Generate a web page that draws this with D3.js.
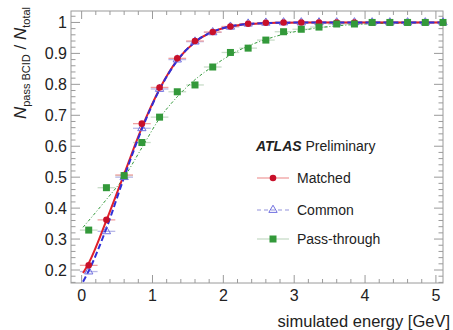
<!DOCTYPE html>
<html><head><meta charset="utf-8">
<script src="https://cdn.jsdelivr.net/npm/d3@7"></script>
<style>
body{margin:0;background:#fff}
text{font-family:"Liberation Sans",Arial,Helvetica,sans-serif;fill:#222}
</style>
</head><body>
<svg id="chart" width="453" height="330"></svg>
<script>
// ---- data ----
const energies = [0.1,0.35,0.6,0.85,1.1,1.35,1.6,1.85,2.1,2.35,2.6,2.85,3.1,3.35,3.6,3.85,4.1,4.35,4.6,4.85,5.1];
const matched = [0.215,0.362,0.507,0.673,0.790,0.884,0.940,0.969,0.987,0.996,0.999,1.0,1.0,1.0,1.0,1.0,1.0,1.0,1.0,1.0,1.0];
const common = [0.195,0.325,0.500,0.658,0.785,0.880,0.938,0.968,0.986,0.996,0.999,1.0,1.0,1.0,1.0,1.0,1.0,1.0,1.0,1.0,1.0];
const passThrough = [0.329,0.466,0.505,0.612,0.694,0.776,0.798,0.856,0.903,0.917,0.943,0.970,0.978,0.985,0.995,0.995,1.0,1.0,1.0,1.0,1.0];
const binHalfWidth = 0.125;

// fitted curves
const matchedFitX = [0.02,0.1,0.35,0.6,0.85,1.1,1.35,1.6,1.85,2.1,2.35,2.6,2.85,3.1,5.1];
const matchedFitY = [0.19,0.222,0.36,0.51,0.66,0.785,0.878,0.937,0.970,0.987,0.995,0.998,0.999,1.0,1.0];
const commonFitX = [0.02,0.1,0.35,0.6,0.85,1.1,1.35,1.6,1.85,2.1,2.35,2.6,2.85,3.1,5.1];
const commonFitY = [0.162,0.197,0.335,0.5,0.655,0.783,0.877,0.937,0.970,0.987,0.995,0.998,0.999,1.0,1.0];
const passFitX = [0.02,0.35,0.6,0.85,1.1,1.35,1.6,1.85,2.1,2.35,2.6,2.85,3.1,3.35,3.6,4.0,4.5,5.1];
const passFitY = [0.338,0.428,0.50,0.595,0.69,0.76,0.815,0.858,0.895,0.924,0.945,0.962,0.974,0.983,0.989,0.995,0.998,1.0];

const xTicks = [0,1,2,3,4,5];
const yTicks = [0.2,0.3,0.4,0.5,0.6,0.7,0.8,0.9,1.0];
const legendLabels = ["Matched","Common","Pass-through"];

// ---- layout ----
const svg = d3.select("#chart");
const L = 71, R = 443, T = 11, B = 283;
const x = d3.scaleLinear().domain([-0.15, 5.1]).range([L, R]);
const y = d3.scaleLinear().domain([0.158, 1.037]).range([B, T]);

const frameCol = "#9a9a9a";
const red = "#c8102a", redLine = "#e0202a", redErr = "#f0a0a0";
const blue = "#3030d8", blueErr = "#b8b8e8";
const green = "#33993a", greenErr = "#c8dcc8";

// frame
svg.append("rect").attr("x", L).attr("y", T).attr("width", R - L).attr("height", B - T)
  .attr("fill", "none").attr("stroke", frameCol).attr("stroke-width", 1);

// ticks
const xMinor = d3.range(0, 5.1 + 1e-9, 0.2).filter(v => Math.abs(v - Math.round(v)) > 1e-6);
const yMinor = d3.range(0.16, 1.037, 0.02).filter(v => Math.abs(v*10 - Math.round(v*10)) > 1e-6);
const tickG = svg.append("g").attr("stroke", frameCol).attr("stroke-width", 1);
xTicks.forEach(v => {
  tickG.append("line").attr("x1", x(v)).attr("x2", x(v)).attr("y1", B).attr("y2", B - 8);
  tickG.append("line").attr("x1", x(v)).attr("x2", x(v)).attr("y1", T).attr("y2", T + 8);
});
xMinor.forEach(v => {
  tickG.append("line").attr("x1", x(v)).attr("x2", x(v)).attr("y1", B).attr("y2", B - 4);
  tickG.append("line").attr("x1", x(v)).attr("x2", x(v)).attr("y1", T).attr("y2", T + 4);
});
yTicks.forEach(v => {
  tickG.append("line").attr("x1", L).attr("x2", L + 9).attr("y1", y(v)).attr("y2", y(v));
  tickG.append("line").attr("x1", R).attr("x2", R - 9).attr("y1", y(v)).attr("y2", y(v));
});
yMinor.forEach(v => {
  tickG.append("line").attr("x1", L).attr("x2", L + 4.5).attr("y1", y(v)).attr("y2", y(v));
  tickG.append("line").attr("x1", R).attr("x2", R - 4.5).attr("y1", y(v)).attr("y2", y(v));
});

// tick labels
svg.append("g").selectAll("text").data(xTicks).join("text")
  .attr("x", d => x(d)).attr("y", 301).attr("text-anchor", "middle")
  .attr("font-size", 16).text(d => d3.format("d")(d));
svg.append("g").selectAll("text").data(yTicks).join("text")
  .attr("x", 67).attr("y", d => y(d) + 6).attr("text-anchor", "end")
  .attr("font-size", 16).text(d => d === 1 ? "1" : d3.format(".1f")(d));

// axis titles
svg.append("text").attr("x", 450).attr("y", 327).attr("text-anchor", "end")
  .attr("font-size", 16.5).text("simulated energy [GeV]");
const yt = svg.append("text").attr("transform", "translate(26,63) rotate(-90)")
  .attr("text-anchor", "middle").attr("font-size", 17);
yt.append("tspan").attr("font-style", "italic").text("N");
yt.append("tspan").attr("font-size", 11).attr("dy", 4).text("pass BCID");
yt.append("tspan").attr("dy", -4).text(" / ");
yt.append("tspan").attr("font-style", "italic").text("N");
yt.append("tspan").attr("font-size", 11).attr("dy", 4).text("total");

// clip
svg.append("clipPath").attr("id", "clip").append("rect")
  .attr("x", L).attr("y", T).attr("width", R - L).attr("height", B - T);
const plot = svg.append("g").attr("clip-path", "url(#clip)");
const line = d3.line().x(d => x(d[0])).y(d => y(d[1])).curve(d3.curveMonotoneX);

// error bars
function errBars(vals, col) {
  plot.append("g").selectAll("line").data(energies.map((e, i) => [e, vals[i]])).join("line")
    .attr("x1", d => x(d[0] - binHalfWidth)).attr("x2", d => x(d[0] + binHalfWidth))
    .attr("y1", d => y(d[1])).attr("y2", d => y(d[1]))
    .attr("stroke", col).attr("stroke-width", 1.3);
}
errBars(passThrough, greenErr);
errBars(common, blueErr);
errBars(matched, redErr);

// fit curves
plot.append("path").datum(passFitX.map((v, i) => [v, passFitY[i]])).attr("d", line)
  .attr("fill", "none").attr("stroke", green).attr("stroke-width", 1).attr("stroke-dasharray", "3,2,1,2");
plot.append("path").datum(matchedFitX.map((v, i) => [v, matchedFitY[i]])).attr("d", line)
  .attr("fill", "none").attr("stroke", redLine).attr("stroke-width", 2);
plot.append("path").datum(commonFitX.map((v, i) => [v, commonFitY[i]])).attr("d", line)
  .attr("fill", "none").attr("stroke", blue).attr("stroke-width", 2).attr("stroke-dasharray", "6,3");

// markers
const tri = d3.symbol().type(d3.symbolTriangle).size(30);
svg.append("g").selectAll("path").data(energies.map((e, i) => [e, common[i]])).join("path")
  .attr("d", tri).attr("transform", d => `translate(${x(d[0])},${y(d[1])})`)
  .attr("fill", "none").attr("stroke", "#7070e0").attr("stroke-width", 1);
svg.append("g").selectAll("circle").data(energies.map((e, i) => [e, matched[i]])).join("circle")
  .attr("cx", d => x(d[0])).attr("cy", d => y(d[1])).attr("r", 3.3).attr("fill", red);
svg.append("g").selectAll("rect").data(energies.map((e, i) => [e, passThrough[i]])).join("rect")
  .attr("x", d => x(d[0]) - 3.5).attr("y", d => y(d[1]) - 3.5).attr("width", 7).attr("height", 7)
  .attr("fill", green);

// ATLAS label
const at = svg.append("text").attr("x", 256).attr("y", 151).attr("font-size", 14);
at.append("tspan").attr("font-weight", "bold").attr("font-style", "italic").text("ATLAS");
at.append("tspan").text(" Preliminary");

// legend
const lg = svg.append("g");
const legY = [178, 210, 239];
lg.append("line").attr("x1", 257).attr("x2", 289).attr("y1", legY[0]).attr("y2", legY[0]).attr("stroke", redErr).attr("stroke-width", 1.3);
lg.append("circle").attr("cx", 273).attr("cy", legY[0]).attr("r", 3.3).attr("fill", red);
lg.append("line").attr("x1", 257).attr("x2", 289).attr("y1", legY[1]).attr("y2", legY[1]).attr("stroke", blueErr).attr("stroke-width", 1.3).attr("stroke-dasharray", "4,3");
lg.append("path").attr("d", tri).attr("transform", `translate(273,${legY[1]})`).attr("fill", "none").attr("stroke", "#7070e0");
lg.append("line").attr("x1", 257).attr("x2", 289).attr("y1", legY[2]).attr("y2", legY[2]).attr("stroke", greenErr).attr("stroke-width", 1.3);
lg.append("rect").attr("x", 269.5).attr("y", legY[2] - 3.5).attr("width", 7).attr("height", 7).attr("fill", green);
lg.selectAll("text.lab").data(legendLabels).join("text").attr("class", "lab")
  .attr("x", 297).attr("y", (d, i) => legY[i] + 5).attr("font-size", 14).text(d => d);
</script>
</body></html>
